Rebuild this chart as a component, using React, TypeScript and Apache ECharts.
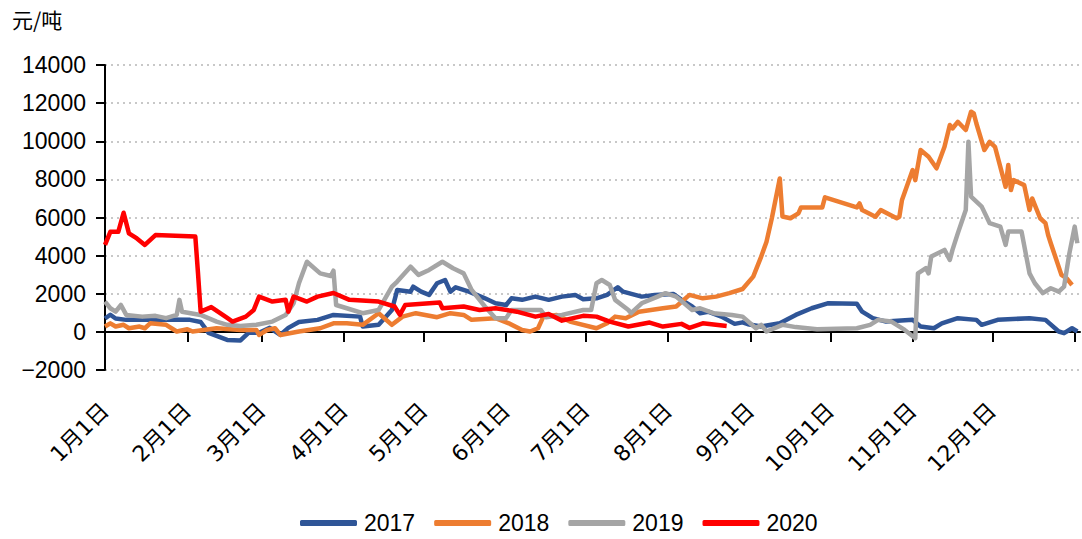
import React, { useEffect, useRef } from "react";
import * as echarts from "echarts";

const monthStarts = [0, 31, 59, 90, 120, 151, 181, 212, 243, 273, 304, 334];
const tickDays = [0, 31, 59, 90, 120, 151, 181, 212, 243, 273, 304, 334, 365];
const monthLabels = ["1月1日", "2月1日", "3月1日", "4月1日", "5月1日", "6月1日", "7月1日", "8月1日", "9月1日", "10月1日", "11月1日", "12月1日"];
const yTicks = [-2000, 0, 2000, 4000, 6000, 8000, 10000, 12000, 14000];

const seriesNames = ["2017", "2018", "2019", "2020"];
const seriesColors = ["#2F5597", "#ED7D31", "#A5A5A5", "#FF0000"];

const days2017 = [0, 2, 4, 8, 20, 32, 36, 39, 46, 51, 54, 58, 62, 66, 69, 73, 80, 86, 96, 97, 103, 108, 110, 115, 116, 119, 122, 125, 128, 130, 132, 137, 143, 147, 151, 153, 157, 162, 167, 172, 177, 180, 185, 189, 193, 195, 202, 207, 214, 217, 221, 224, 227, 232, 237, 240, 242, 247, 254, 260, 266, 272, 283, 285, 289, 294, 304, 307, 312, 315, 321, 328, 330, 336, 348, 354, 359, 361, 364, 366];
const vals2017 = [700, 900, 700, 630, 650, 630, 520, -50, -420, -450, -50, -50, 210, -160, 210, 520, 630, 890, 800, 280, 370, 1150, 2200, 2110, 2370, 2110, 1940, 2550, 2720, 2110, 2340, 2110, 1760, 1500, 1410, 1760, 1680, 1850, 1680, 1850, 1940, 1710, 1760, 1940, 2340, 2110, 1850, 1940, 1990, 1680, 1330, 980, 1060, 800, 420, 500, 400, 280, 450, 890, 1240, 1500, 1470, 1060, 720, 540, 630, 280, 190, 450, 720, 630, 370, 630, 720, 630, 20, -70, 190, 20];

const days2018 = [0, 2, 4, 7, 9, 13, 15, 17, 23, 27, 31, 33, 42, 51, 57, 58, 61, 64, 66, 73, 81, 86, 91, 97, 103, 108, 112, 117, 125, 130, 135, 138, 147, 152, 157, 160, 163, 165, 170, 175, 185, 189, 192, 196, 201, 210, 215, 220, 225, 230, 235, 240, 244, 247, 249, 251, 254, 255, 258, 261, 262, 270, 271, 283, 284, 285, 290, 292, 298, 299, 300, 304, 305, 307, 310, 313, 316, 318, 319, 321, 324, 326, 327, 328, 331, 333, 335, 339, 340, 341, 342, 346, 348, 349, 352, 354, 355, 356, 360, 362, 364];
const vals2018 = [280, 450, 280, 370, 190, 280, 190, 450, 370, 20, 140, 20, 190, 100, 100, -160, 100, 190, -160, 20, 190, 450, 450, 370, 980, 370, 800, 980, 770, 980, 890, 630, 720, 450, 100, 20, 190, 800, 890, 540, 190, 450, 800, 720, 1060, 1240, 1330, 1940, 1760, 1850, 2030, 2250, 2900, 3950, 4730, 5960, 8050, 6050, 5960, 6220, 6530, 6530, 7060, 6530, 6740, 6390, 6040, 6390, 5960, 6040, 6920, 8490, 7960, 9540, 9190, 8580, 9710, 10850, 10670, 11020, 10590, 11550, 11460, 10930, 9540, 9970, 9710, 7610, 8750, 7440, 7960, 7700, 6390, 7000, 5960, 5700, 5080, 4650, 2990, 2810, 2460];

const days2019 = [0, 2, 4, 6, 8, 14, 19, 23, 27, 28, 29, 36, 42, 46, 51, 57, 63, 68, 71, 73, 76, 81, 85, 86, 87, 91, 97, 103, 108, 110, 115, 118, 122, 127, 131, 135, 138, 143, 147, 151, 153, 160, 164, 166, 172, 180, 183, 185, 187, 190, 192, 197, 198, 202, 208, 211, 215, 221, 224, 229, 236, 240, 245, 247, 249, 255, 260, 268, 283, 288, 291, 296, 301, 305, 306, 309, 310, 311, 316, 318, 319, 321, 324, 325, 326, 330, 333, 337, 339, 340, 345, 348, 350, 353, 356, 359, 361, 363, 365, 366];
const vals2019 = [1590, 1240, 1060, 1410, 890, 800, 840, 720, 890, 1680, 1060, 890, 540, 370, 310, 370, 540, 890, 1500, 2550, 3680, 3070, 2930, 3210, 1410, 1240, 980, 1150, 2370, 2640, 3420, 2990, 3250, 3680, 3340, 3070, 2200, 1330, 720, 720, 1150, 1150, 1150, 770, 890, 1150, 1150, 2550, 2720, 2460, 1680, 1150, 980, 1500, 1850, 2030, 1850, 1150, 1240, 980, 890, 800, 190, 370, 20, 370, 250, 140, 190, 370, 630, 540, 100, -330, 3070, 3340, 3070, 3950, 4300, 3770, 4300, 5170, 6390, 9970, 7090, 6570, 5700, 5520, 4560, 5260, 5260, 3070, 2550, 2030, 2290, 2110, 2370, 4120, 5520, 4650];

const days2020 = [0, 2, 5, 7, 9, 12, 15, 19, 34, 35, 36, 40, 46, 48, 53, 56, 58, 63, 68, 69, 71, 76, 80, 86, 92, 103, 109, 111, 113, 126, 127, 135, 141, 147, 155, 162, 167, 172, 180, 185, 190, 197, 205, 210, 217, 220, 225, 234];
const vals2020 = [4560, 5250, 5250, 6250, 5170, 4900, 4560, 5080, 5000, 3090, 1060, 1300, 730, 540, 800, 1150, 1850, 1590, 1680, 1060, 1850, 1590, 1850, 2040, 1680, 1590, 1330, 890, 1410, 1540, 1240, 1330, 1150, 1240, 1060, 800, 940, 590, 840, 800, 540, 280, 490, 280, 420, 210, 450, 310];

const allDays = [days2017, days2018, days2019, days2020];
const allVals = [vals2017, vals2018, vals2019, vals2020];

const zip = (d: number[], v: number[]) => d.map((x, i) => [x, v[i]]);

export default function App() {
  const ref = useRef<HTMLDivElement>(null);
  useEffect(() => {
    if (!ref.current) return;
    const chart = echarts.init(ref.current, null, { renderer: "svg" });
    const numFont = "'Liberation Sans', 'Noto Sans CJK SC', sans-serif";
    const dateFont = "'DejaVu Sans', 'Noto Sans CJK SC', sans-serif";
    chart.setOption({
      animation: false,
      backgroundColor: "#ffffff",
      grid: { left: 105, right: 2, top: 65, bottom: 169, containLabel: false },
      graphic: [
        {
          type: "text",
          left: 12,
          top: 8,
          style: { text: "元/吨", fontSize: 21, fill: "#000", fontFamily: "'Noto Sans CJK SC', sans-serif" },
        },
      ],
      legend: {
        data: seriesNames,
        left: 300,
        top: 510,
        padding: 0,
        icon: "roundRect",
        itemWidth: 57,
        itemHeight: 6,
        itemGap: 19,
        textStyle: { fontSize: 23, lineHeight: 26, color: "#000", fontFamily: numFont, padding: [0, 0, 0, 2] },
      },
      xAxis: [
        {
          type: "value",
          min: 0,
          max: 367,
          position: "bottom",
          axisLine: { show: true, onZero: true, lineStyle: { color: "#000", width: 2 } },
          axisTick: { show: true, customValues: tickDays, length: 10, lineStyle: { color: "#000", width: 2 } },
          axisLabel: { show: false },
          splitLine: { show: false },
        },
        {
          type: "value",
          min: 0,
          max: 367,
          position: "bottom",
          axisLine: { show: false, onZero: false },
          axisTick: { show: false },
          axisLabel: {
            show: true,
            customValues: monthStarts,
            rotate: 45,
            margin: 37,
            fontSize: 22,
            color: "#000",
            fontFamily: dateFont,
            formatter: (v: number) => {
              const i = monthStarts.indexOf(v);
              return i >= 0 ? monthLabels[i] : "";
            },
          },
          splitLine: { show: false },
        },
      ],
      yAxis: {
        type: "value",
        min: yTicks[0],
        max: yTicks[yTicks.length - 1],
        interval: 2000,
        axisLine: { show: true, lineStyle: { color: "#000", width: 2 } },
        axisTick: { show: true, length: 9, lineStyle: { color: "#000", width: 2 } },
        axisLabel: {
          fontSize: 23,
          color: "#000",
          margin: 19,
          fontFamily: numFont,
          formatter: (v: number) => (v < 0 ? "\u2212" + String(-v) : String(v)),
        },
        splitLine: { show: true, lineStyle: { type: [2, 4], color: "#c8c8c8", width: 2 } },
      },
      series: seriesNames.map((name, i) => ({
        name,
        type: "line",
        xAxisIndex: 0,
        symbol: "none",
        color: seriesColors[i],
        lineStyle: { width: 4.5, color: seriesColors[i], join: "round" },
        data: zip(allDays[i], allVals[i]),
      })),
    });
    return () => chart.dispose();
  }, []);
  return <div ref={ref} style={{ position: "absolute", left: 0, top: 0, width: 1082, height: 539 }} />;
}
